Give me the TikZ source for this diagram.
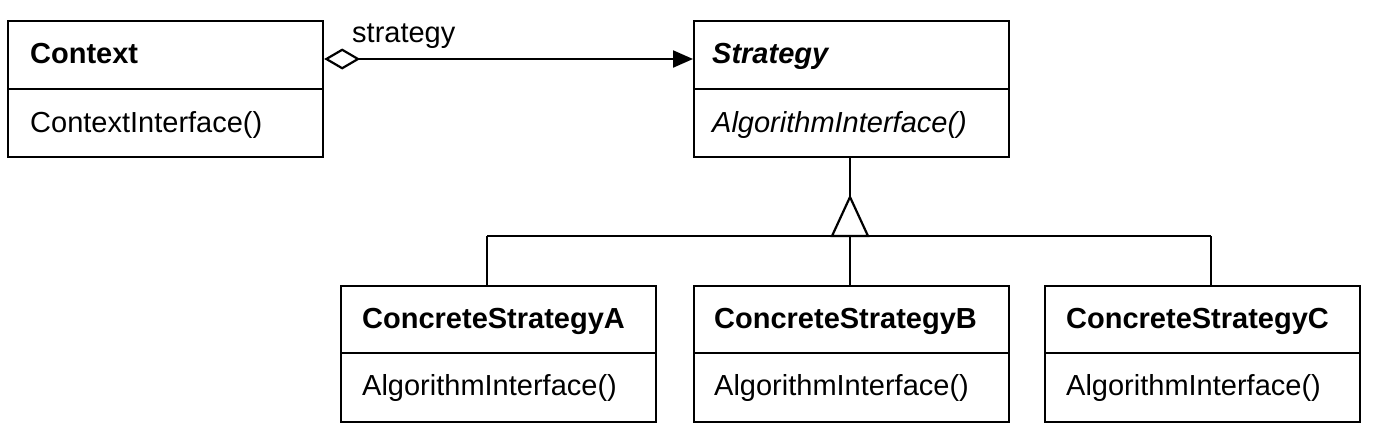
\documentclass[tikz,border=0pt]{standalone}
\usepackage{fontspec}
\setmainfont{Liberation Sans}
\usetikzlibrary{arrows.meta,calc}
\begin{document}
\begin{tikzpicture}[x=1pt,y=-1pt,
  lw/.style={line width=2.2pt},
  classbox/.style={draw, lw, minimum width=315pt, minimum height=136pt, anchor=north west, inner sep=0pt},
  lowbox/.style={classbox, minimum height=136pt},
  txt/.style={anchor=base west, inner sep=0pt, font=\fontsize{29}{34}\selectfont},
  hdr/.style={txt, font=\fontsize{29}{34}\selectfont\bfseries},
  ihdr/.style={txt, font=\fontsize{29}{34}\selectfont\bfseries\itshape},
  imth/.style={txt, font=\fontsize{29}{34}\selectfont\itshape}
]
\useasboundingbox[fill=white] (0,0) rectangle (1379,445);

% top boxes
\node[classbox] (ctx) at (7,20) {};
\node[classbox] (str) at (693,20) {};
\draw[lw] ($(ctx.north west)+(0,69)$) -- ($(ctx.north east)+(0,69)$);
\draw[lw] ($(str.north west)+(0,69)$) -- ($(str.north east)+(0,69)$);
\node[hdr] (ctxname) at (30,63) {Context};
\node[txt] (ctxm) at (30,132) {ContextInterface()};
\node[ihdr] (strname) at (712,63) {Strategy};
\node[imth] (strm) at (712,132) {AlgorithmInterface()};

% bottom boxes
\node[lowbox] (ca) at (340,285) {};
\node[lowbox] (cb) at (693,285) {};
\node[lowbox] (cc) at (1044,285) {};
\foreach \b in {ca,cb,cc}{
  \draw[lw] ($(\b.north west)+(0,68)$) -- ($(\b.north east)+(0,68)$);
}
\node[hdr] (caname) at (362,328) {ConcreteStrategyA};
\node[txt] (cam) at (362,395) {AlgorithmInterface()};
\node[hdr] (cbname) at (714,328) {ConcreteStrategyB};
\node[txt] (cbm) at (714,395) {AlgorithmInterface()};
\node[hdr] (ccname) at (1066,328) {ConcreteStrategyC};
\node[txt] (ccm) at (1066,395) {AlgorithmInterface()};

% aggregation
\coordinate (agg) at (0,59);
\draw[lw, {Diamond[open,length=36pt,width=21pt]}-{Triangle[length=20pt,width=17pt]}]
  (ctx.east |- agg) -- (str.west |- agg);
\node[txt] (lbl) at (352,42) {strategy};

% inheritance
\coordinate (apex) at (850,197);
\coordinate (junc) at (850,236);
\coordinate (ja) at (487,236);
\coordinate (jc) at (1211,236);
\draw[lw] (apex |- str.south) -- (apex);
\draw[lw, line join=miter] (apex) -- ++(-18,39) -- ++(36,0) -- cycle;
\draw[lw] (ja) -- (jc);
\draw[lw] (ja) -- (ja |- ca.north);
\draw[lw] (junc) -- (junc |- cb.north);
\draw[lw] (jc) -- (jc |- cc.north);
\end{tikzpicture}
\end{document}
